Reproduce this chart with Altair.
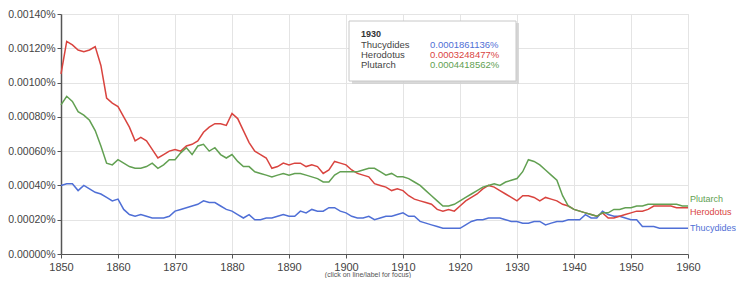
import altair as alt
import pandas as pd

years = list(range(1850, 1961))

herodotus = [
    0.00105, 0.00124, 0.00122, 0.00119, 0.00118, 0.00119, 0.00121, 0.00110, 0.00091, 0.00088,
    0.00086, 0.00080, 0.00074, 0.00066, 0.00068, 0.00066, 0.00061, 0.00056, 0.00058, 0.00060,
    0.00061, 0.00060, 0.00063, 0.00064, 0.00066, 0.00071, 0.00074, 0.00076, 0.00076, 0.00075,
    0.00082, 0.00079, 0.00072, 0.00065, 0.00060, 0.00058, 0.00056, 0.00050, 0.00051, 0.00053,
    0.00052, 0.00053, 0.00053, 0.00051, 0.00052, 0.00051, 0.00047, 0.00049, 0.00054, 0.00053,
    0.00052, 0.00049, 0.00047, 0.00046, 0.00045, 0.00041, 0.00040, 0.00039, 0.00037, 0.00038,
    0.00037, 0.00034, 0.00032, 0.00031, 0.00030, 0.00029, 0.00026, 0.00025, 0.00026, 0.00025,
    0.00028, 0.00031, 0.00033, 0.00035, 0.00038, 0.00040, 0.00039, 0.00037, 0.00035, 0.00033,
    0.00031, 0.00034, 0.00034, 0.00033, 0.00031, 0.00033, 0.00032, 0.00031, 0.00029, 0.00028,
    0.00026, 0.00025, 0.00024, 0.00023, 0.00022, 0.00024, 0.00021, 0.00021, 0.00022, 0.00023,
    0.00024, 0.00025, 0.00025, 0.00026, 0.00028, 0.00028, 0.00028, 0.00028, 0.00027, 0.00027,
    0.00027,
]

plutarch = [
    0.00087, 0.00092, 0.00089, 0.00083, 0.00081, 0.00078, 0.00072, 0.00063, 0.00053, 0.00052,
    0.00055, 0.00053, 0.00051, 0.00050, 0.00050, 0.00051, 0.00053, 0.00050, 0.00052, 0.00055,
    0.00055, 0.00059, 0.00062, 0.00058, 0.00063, 0.00064, 0.00060, 0.00062, 0.00058, 0.00056,
    0.00058, 0.00054, 0.00051, 0.00051, 0.00048, 0.00047, 0.00046, 0.00045, 0.00046, 0.00047,
    0.00046, 0.00047, 0.00047, 0.00046, 0.00045, 0.00044, 0.00042, 0.00042, 0.00046, 0.00048,
    0.00048, 0.00048, 0.00048, 0.00049, 0.00050, 0.00050, 0.00048, 0.00046, 0.00047, 0.00045,
    0.00045, 0.00044, 0.00042, 0.00040, 0.00037, 0.00034, 0.00031, 0.00028, 0.00028, 0.00029,
    0.00031, 0.00033, 0.00035, 0.00037, 0.00039, 0.00040, 0.00041, 0.00040, 0.00042, 0.00043,
    0.00044, 0.00048, 0.00055, 0.00054, 0.00052, 0.00049, 0.00046, 0.00043, 0.00034, 0.00028,
    0.00026, 0.00025, 0.00024, 0.00023, 0.00022, 0.00024, 0.00024, 0.00026, 0.00026, 0.00027,
    0.00027, 0.00028, 0.00028, 0.00029, 0.00029, 0.00029, 0.00029, 0.00029, 0.00029, 0.00028,
    0.00028,
]

thucydides = [
    0.00040, 0.00041, 0.00041, 0.00037, 0.00040, 0.00038, 0.00036, 0.00035, 0.00033, 0.00031,
    0.00032, 0.00026, 0.00023, 0.00022, 0.00023, 0.00022, 0.00021, 0.00021, 0.00021, 0.00022,
    0.00025, 0.00026, 0.00027, 0.00028, 0.00029, 0.00031, 0.00030, 0.00030, 0.00028, 0.00026,
    0.00025, 0.00023, 0.00021, 0.00023, 0.00020, 0.00020, 0.00021, 0.00021, 0.00022, 0.00023,
    0.00022, 0.00022, 0.00025, 0.00024, 0.00026, 0.00025, 0.00025, 0.00027, 0.00027, 0.00025,
    0.00024, 0.00022, 0.00021, 0.00021, 0.00022, 0.00020, 0.00021, 0.00022, 0.00022, 0.00023,
    0.00024, 0.00022, 0.00022, 0.00019, 0.00018, 0.00017, 0.00016, 0.00015, 0.00015, 0.00015,
    0.00015, 0.00017, 0.00019, 0.00020, 0.00020, 0.00021, 0.00021, 0.00021, 0.00020, 0.00019,
    0.00019, 0.00018, 0.00018, 0.00019, 0.00019, 0.00017, 0.00018, 0.00019, 0.00019, 0.00020,
    0.00020, 0.00020, 0.00023, 0.00021, 0.00021, 0.00025, 0.00023, 0.00022, 0.00022, 0.00021,
    0.00020, 0.00020, 0.00016, 0.00016, 0.00016, 0.00015, 0.00015, 0.00015, 0.00015, 0.00015,
    0.00015,
]

series_names = ["Thucydides", "Herodotus", "Plutarch"]
series_colors = ["#4f6fd6", "#d9443f", "#62a052"]
tooltip_year = "1930"
tooltip_values = ["0.0001861136%", "0.0003248477%", "0.0004418562%"]
x_ticks = list(range(1850, 1961, 10))
y_ticks = [0.0, 0.0002, 0.0004, 0.0006, 0.0008, 0.0010, 0.0012, 0.0014]
caption = "(click on line/label for focus)"

rows = []
for name, vals in zip(series_names, [thucydides, herodotus, plutarch]):
    for yr, v in zip(years, vals):
        rows.append({"year": yr, "value": v, "series": name})
df = pd.DataFrame(rows)

FONT = "Liberation Sans"
W, H = 627, 240

color_scale = alt.Scale(domain=series_names, range=series_colors)
x_scale = alt.Scale(domain=[1850, 1960], nice=False, zero=False)
y_scale = alt.Scale(domain=[0, 0.0014], nice=False)
x_axis = alt.Axis(values=x_ticks, format="d", title=None, labelFont=FONT,
                  labelFontSize=11, labelColor="#444", tickSize=4,
                  tickColor="#555", domainColor="#555", gridColor="#e4e4e4",
                  labelPadding=3, labelOverlap=False, labelFlush=False)
y_axis = alt.Axis(values=y_ticks, labelExpr="format(datum.value, '.5f') + '%'",
                  title=None, labelFont=FONT, labelFontSize=10.5, labelColor="#444",
                  tickSize=4, tickColor="#555", domainColor="#555",
                  domainWidth=1.5, gridColor="#e4e4e4", labelPadding=2,
                  labelOverlap=False, labelFlush=False)

def xe():
    return alt.X("year:Q", scale=x_scale, axis=x_axis)

def ye():
    return alt.Y("value:Q", scale=y_scale, axis=y_axis)

lines = alt.Chart(df).mark_line(strokeWidth=1.5, interpolate="linear").encode(
    x=xe(), y=ye(),
    color=alt.Color("series:N", scale=color_scale, legend=None),
    detail="series:N",
)

last = df[df["year"] == 1960]
label_dy = {"Plutarch": -7, "Herodotus": 4, "Thucydides": 0}
labels = []
for name in series_names:
    labels.append(
        alt.Chart(last[last["series"] == name]).mark_text(
            align="left", baseline="middle", dx=2, dy=label_dy[name],
            font=FONT, fontSize=9,
        ).encode(
            x=xe(), y=ye(), text="series:N",
            color=alt.Color("series:N", scale=color_scale, legend=None),
        )
    )

one = pd.DataFrame({"a": [0]})
shadow = alt.Chart(one).mark_rect(color="#cfcfcf", opacity=0.8).encode(
    x=alt.value(291), x2=alt.value(458), y=alt.value(9), y2=alt.value(70))
box = alt.Chart(one).mark_rect(fill="white", stroke="#c8c8c8", strokeWidth=1).encode(
    x=alt.value(288), x2=alt.value(455), y=alt.value(7), y2=alt.value(67))
tt_year = alt.Chart(one).mark_text(align="left", baseline="middle", font=FONT,
                                   fontSize=9, fontWeight="bold", color="#333").encode(
    x=alt.value(300), y=alt.value(20), text=alt.value(tooltip_year))
tt_rows = []
for i, (name, val, col) in enumerate(zip(series_names, tooltip_values, series_colors)):
    yy = 31 + i * 10
    tt_rows.append(alt.Chart(one).mark_text(align="left", baseline="middle", font=FONT,
                                            fontSize=9.5, color="#444").encode(
        x=alt.value(300), y=alt.value(yy), text=alt.value(name)))
    tt_rows.append(alt.Chart(one).mark_text(align="left", baseline="middle", font=FONT,
                                            fontSize=9.5, color=col).encode(
        x=alt.value(369), y=alt.value(yy), text=alt.value(val)))

cap = alt.Chart(one).mark_text(align="center", baseline="middle", font=FONT,
                               fontSize=7, color="#555").encode(
    x=alt.value(307), y=alt.value(261), text=alt.value(caption))

chart = alt.layer(lines, *labels, shadow, box, tt_year, *tt_rows, cap).properties(
    width=W, height=H,
    autosize=alt.AutoSizeParams(type="none"),
    padding={"left": 53, "top": 6, "right": 48, "bottom": 24},
).configure_view(stroke="#e4e4e4", strokeWidth=1).configure_axis(
    labelOverlap=False
).configure(background="white")

chart.save("out.html", embed_options={"renderer": "svg", "actions": False})
